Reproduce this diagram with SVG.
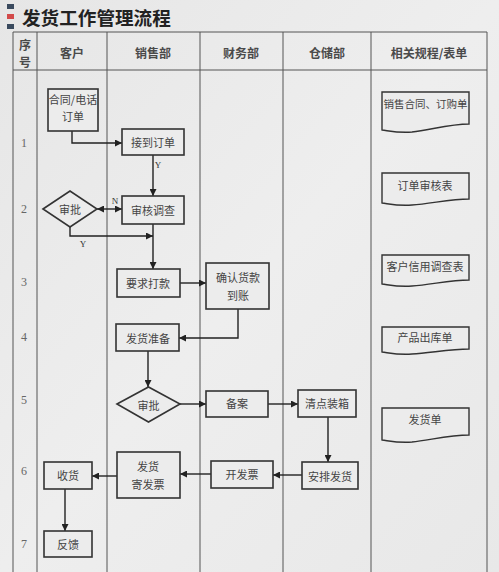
<svg xmlns="http://www.w3.org/2000/svg" width="499" height="572" viewBox="0 0 499 572">
<defs>
<marker id="ah" viewBox="0 0 10 10" refX="10" refY="5" markerWidth="7" markerHeight="7" orient="auto-start-reverse" markerUnits="userSpaceOnUse">
<path d="M0,0 L10,5 L0,10 Z" fill="#222"/>
</marker>
<linearGradient id="bg" x1="0" y1="0" x2="1" y2="1">
<stop offset="0" stop-color="#e6e6e6"/>
<stop offset="0.5" stop-color="#eeeeee"/>
<stop offset="1" stop-color="#e8e8e8"/>
</linearGradient>
</defs>
<style>
.grid{stroke:#555;stroke-width:1;fill:none}
.box{fill:#ececec;stroke:#333;stroke-width:1.6}
.doc{fill:#ececec;stroke:#333;stroke-width:1.4}
.t{font-family:"Noto Sans CJK SC","Noto Sans",sans-serif;font-size:11px;fill:#444;text-anchor:middle;dominant-baseline:central}
.h{font-family:"Noto Sans CJK SC","Noto Sans",sans-serif;font-size:12px;fill:#4a4a4a;text-anchor:middle;dominant-baseline:central;font-weight:bold}
.n{font-family:"Liberation Serif",serif;font-size:12px;fill:#666;text-anchor:middle;dominant-baseline:central}
.yn{font-family:"Liberation Serif",serif;font-size:9px;fill:#333;text-anchor:middle;dominant-baseline:central}
.c{stroke:#222;stroke-width:1.4;fill:none}
</style>
<rect width="499" height="572" fill="url(#bg)"/>
<g id="title">
<rect x="7" y="4" width="7" height="5" fill="#3a4a5e"/>
<rect x="7" y="14" width="7" height="5" fill="#d24a4a"/>
<rect x="7" y="24" width="7" height="5" fill="#3a4a5e"/>
<text x="22" y="25" font-family="Noto Sans CJK SC,sans-serif" font-size="18.6" font-weight="bold" fill="#222">发货工作管理流程</text>
</g>
<g id="table">
<path class="grid" d="M13,32 H487 M13,70 H487 M13,32 V572 M37,32 V572 M107,32 V572 M200,32 V572 M283,32 V572 M371,32 V572 M487,32 V572"/>
<text class="h" x="25" y="44">序</text>
<text class="h" x="25" y="61">号</text>
<text class="h" x="72" y="52">客户</text>
<text class="h" x="153" y="52">销售部</text>
<text class="h" x="241" y="52">财务部</text>
<text class="h" x="327" y="52">仓储部</text>
<text class="h" x="429" y="52">相关规程/表单</text>
<text class="n" x="24" y="143">1</text>
<text class="n" x="24" y="209">2</text>
<text class="n" x="24" y="282">3</text>
<text class="n" x="24" y="337">4</text>
<text class="n" x="24" y="400">5</text>
<text class="n" x="24" y="471">6</text>
<text class="n" x="24" y="544">7</text>
</g>
<g id="connectors">
<path class="c" d="M72,131 V143 H122" marker-end="url(#ah)"/>
<path class="c" d="M153,155 V196" marker-end="url(#ah)"/>
<path class="c" d="M97,209 H122" marker-start="url(#ah)" marker-end="url(#ah)"/>
<path class="c" d="M70,227 V236 H153" marker-end="url(#ah)"/>
<path class="c" d="M153,224 V269" marker-end="url(#ah)"/>
<path class="c" d="M180,283 H206" marker-end="url(#ah)"/>
<path class="c" d="M238,309 V338 H179" marker-end="url(#ah)"/>
<path class="c" d="M148,351 V387" marker-end="url(#ah)"/>
<path class="c" d="M180,404 H206" marker-end="url(#ah)"/>
<path class="c" d="M268,404 H298" marker-end="url(#ah)"/>
<path class="c" d="M328,417 V462" marker-end="url(#ah)"/>
<path class="c" d="M302,475 H273" marker-end="url(#ah)"/>
<path class="c" d="M211,474 H180" marker-end="url(#ah)"/>
<path class="c" d="M117,476 H92" marker-end="url(#ah)"/>
<path class="c" d="M65,489 V531" marker-end="url(#ah)"/>
<text class="yn" x="158" y="165">Y</text>
<text class="yn" x="115" y="201">N</text>
<text class="yn" x="83" y="244">Y</text>
</g>
<g id="n_contract"><rect class="box" x="48" y="89" width="50" height="42"/><text class="t" x="73" y="99">合同/电话</text><text class="t" x="73" y="116">订单</text></g>
<g id="n_receive"><rect class="box" x="122" y="129" width="62" height="26"/><text class="t" x="153" y="142">接到订单</text></g>
<g id="n_review"><rect class="box" x="122" y="196" width="62" height="28"/><text class="t" x="153" y="210">审核调查</text></g>
<g id="n_approve1"><path class="box" d="M43,209 L70,191 L97,209 L70,227 Z"/><text class="t" x="70" y="209">审批</text></g>
<g id="n_pay"><rect class="box" x="117" y="269" width="63" height="28"/><text class="t" x="148" y="283">要求打款</text></g>
<g id="n_confirm"><rect class="box" x="206" y="263" width="63" height="46"/><text class="t" x="238" y="277">确认货款</text><text class="t" x="238" y="295">到账</text></g>
<g id="n_prepare"><rect class="box" x="116" y="324" width="63" height="27"/><text class="t" x="148" y="338">发货准备</text></g>
<g id="n_approve2"><path class="box" d="M117,404 L148.5,387 L180,404 L148.5,422 Z"/><text class="t" x="148.5" y="405">审批</text></g>
<g id="n_record"><rect class="box" x="206" y="391" width="62" height="26"/><text class="t" x="237" y="403">备案</text></g>
<g id="n_pack"><rect class="box" x="298" y="390" width="58" height="27"/><text class="t" x="327" y="403">清点装箱</text></g>
<g id="n_arrange"><rect class="box" x="302" y="462" width="56" height="27"/><text class="t" x="330" y="476">安排发货</text></g>
<g id="n_invoice"><rect class="box" x="211" y="461" width="62" height="27"/><text class="t" x="242" y="474">开发票</text></g>
<g id="n_ship"><rect class="box" x="117" y="452" width="63" height="46"/><text class="t" x="148" y="466">发货</text><text class="t" x="148" y="484">寄发票</text></g>
<g id="n_get"><rect class="box" x="44" y="462" width="48" height="27"/><text class="t" x="68" y="475">收货</text></g>
<g id="n_feedback"><rect class="box" x="44" y="531" width="48" height="26"/><text class="t" x="68" y="544">反馈</text></g>
<g id="d_contract"><path class="doc" d="M382,92 H469 V124 C450,124 430,130 412,132 C398,133 390,131 382,130 Z"/><text class="t" x="425.5" y="103" style="font-size:10.5px">销售合同、订购单</text></g>
<g id="d_orderreview"><path class="doc" d="M382,173 H469 V199 C450,199 430,204 412,205 C398,206 390,204 382,203 Z"/><text class="t" x="425" y="185">订单审核表</text></g>
<g id="d_credit"><path class="doc" d="M382,255 H469 V280 C450,280 430,285 412,286 C398,287 390,285 382,284 Z"/><text class="t" x="425" y="266">客户信用调查表</text></g>
<g id="d_outbound"><path class="doc" d="M382,327 H469 V349 C450,349 430,353 412,354 C398,355 390,353 382,352 Z"/><text class="t" x="425" y="337">产品出库单</text></g>
<g id="d_delivery"><path class="doc" d="M382,408 H469 V435 C450,435 430,440 412,442 C398,443 390,441 382,440 Z"/><text class="t" x="425" y="419">发货单</text></g>
</svg>
